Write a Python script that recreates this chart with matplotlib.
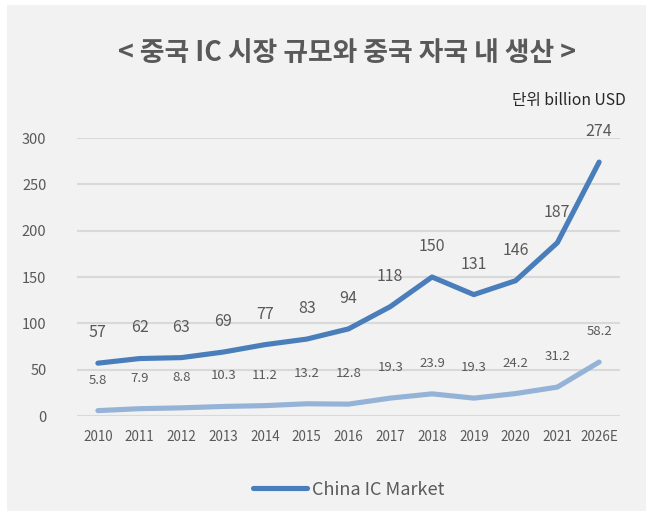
import matplotlib
matplotlib.use("Agg")
import matplotlib.pyplot as plt
from matplotlib.patches import Rectangle

plt.rcParams['font.family'] = ['Noto Sans CJK KR', 'DejaVu Sans']

# 데이터
years = ['2010', '2011', '2012', '2013', '2014', '2015', '2016',
         '2017', '2018', '2019', '2020', '2021', '2026E']
market = [57, 62, 63, 69, 77, 83, 94, 118, 150, 131, 146, 187, 274]
domestic = [5.8, 7.9, 8.8, 10.3, 11.2, 13.2, 12.8, 19.3, 23.9, 19.3, 24.2, 31.2, 58.2]
market_labels = [str(v) for v in market]
domestic_labels = ['5.8', '7.9', '8.8', '10.3', '11.2', '13.2', '12.8',
                   '19.3', '23.9', '19.3', '24.2', '31.2', '58.2']

text_col = '#595959'

fig = plt.figure(figsize=(6.46, 5.11), dpi=100)
fig.patch.set_facecolor('white')
# 회색 배경 박스
bg = Rectangle((7/646, 0), 1 - 7/646, 1 - 5/511, transform=fig.transFigure,
               facecolor='#f2f2f2', edgecolor='none', zorder=-10)
fig.patches.append(bg)

ax = fig.add_axes([77/646, 95/511, (620-77)/646, (416-138)/511])
ax.set_facecolor('none')
x = list(range(len(years)))

ax.plot(x, market, color='#4a7ebb', lw=3.7, solid_capstyle='round', zorder=3,
        label='China IC Market')
ax.plot(x, domestic, color='#95b3d7', lw=3.7, solid_capstyle='round', zorder=3)

for i in x:
    ax.annotate(market_labels[i], (i, market[i]), xytext=(0, 22), textcoords='offset points',
                ha='center', va='center', fontsize=11.5, color=text_col)
    ax.annotate(domestic_labels[i], (i, domestic[i]), xytext=(0, 22), textcoords='offset points',
                ha='center', va='center', fontsize=9.5, color=text_col)

ax.set_xlim(-0.5, 12.5)
ax.set_ylim(0, 300)
ax.set_yticks([0, 50, 100, 150, 200, 250, 300])
ax.set_xticks(x)
ax.set_xticklabels(years)
ax.grid(axis='y', color='#d9d9d9', lw=1.5, zorder=0)
ax.set_axisbelow(True)
for s in ax.spines.values():
    s.set_visible(False)
ax.tick_params(axis='both', length=0, colors=text_col)
ax.tick_params(axis='y', labelsize=10.5, pad=22)
ax.tick_params(axis='x', labelsize=9.7, pad=10)

fig.text(347/646, 1 - 53/511, '< 중국 IC 시장 규모와 중국 자국 내 생산 >',
         ha='center', va='center', fontsize=19.3, fontweight='bold', color=text_col)
fig.text(626/646, 1 - 100/511, '단위 billion USD', ha='right', va='center',
         fontsize=11.3, color='#262626')

leg = ax.legend(loc='center', bbox_to_anchor=(0.5, -0.265), frameon=False,
                fontsize=13, handlelength=3.0, handletextpad=0.3)
for t in leg.get_texts():
    t.set_color(text_col)

fig.savefig('out.png', dpi=100)
